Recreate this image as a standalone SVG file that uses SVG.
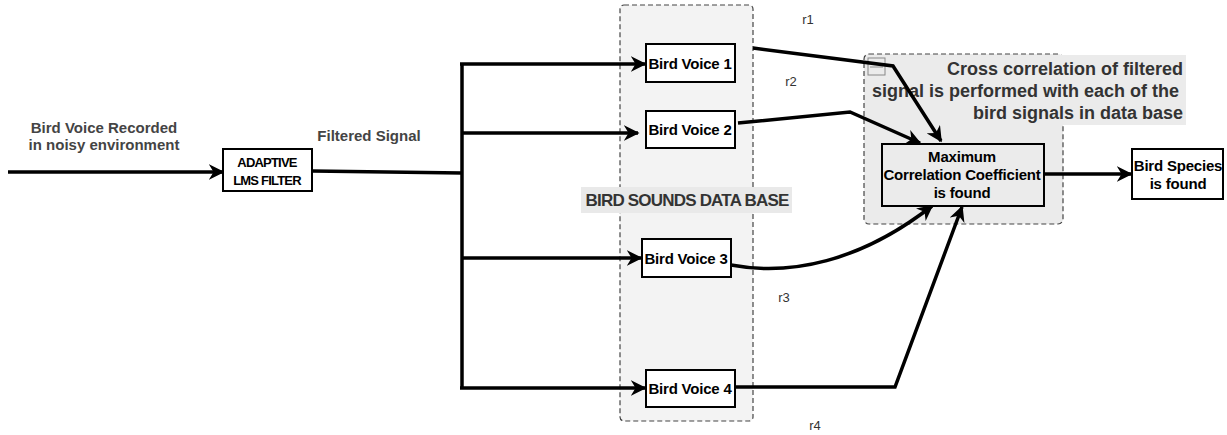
<svg xmlns="http://www.w3.org/2000/svg" width="1227" height="435" viewBox="0 0 1227 435">
<defs>
<marker id="arr" viewBox="0 0 10 10" refX="9" refY="5" markerWidth="4.5" markerHeight="4.5" orient="auto" markerUnits="strokeWidth">
<path d="M0,0 L10,5 L0,10 L3,5 Z" fill="#000"/>
</marker>
<style>
.box{fill:#fff;stroke:#000;stroke-width:2}
.grp{stroke:#444;stroke-width:1.2;stroke-dasharray:5,3}
.c{fill:none;stroke:#000;stroke-width:3.5;marker-end:url(#arr)}
.cn{fill:none;stroke:#000;stroke-width:3.5}
.t{font-family:"Liberation Sans",Arial,sans-serif;font-weight:bold;font-size:15px;fill:#000;text-anchor:middle;letter-spacing:-0.2px}
.lbl{font-family:"Liberation Sans",Arial,sans-serif;font-weight:bold;font-size:15px;fill:#444;text-anchor:middle}
.r{font-family:"Liberation Sans",Arial,sans-serif;font-size:13px;fill:#333;text-anchor:middle}
</style>
</defs>
<rect width="1227" height="435" fill="#fff"/>

<g id="database">
<rect class="grp" x="620" y="5" width="133" height="416" rx="4" fill="#f3f3f3"/>
<rect x="581" y="187" width="211" height="26" fill="#e9e9e9"/>
<text class="lbl" x="687" y="206" style="font-size:17px;fill:#333;letter-spacing:-0.8px">BIRD SOUNDS DATA BASE</text>
</g>

<g id="crosscorr">
<rect class="grp" x="864" y="54" width="199" height="170" rx="5" fill="#ebebeb"/>
<rect x="866" y="55" width="320" height="70" fill="#ebebeb"/>
<rect x="868" y="58" width="17" height="17" fill="none" stroke="#888" stroke-width="1"/>
<line x1="870" y1="67" x2="883" y2="67" stroke="#888" stroke-width="1"/>
<text class="lbl" style="font-size:18px;fill:#333;text-anchor:end" x="1183" y="75">Cross correlation of filtered</text>
<text class="lbl" style="font-size:18px;fill:#333;text-anchor:end" x="1179" y="97">signal is performed with each of the</text>
<text class="lbl" style="font-size:18px;fill:#333;text-anchor:end" x="1183" y="119">bird signals in data base</text>
</g>

<g id="connectors">
<line class="c" x1="8" y1="172" x2="223" y2="172"/>
<polyline class="cn" points="312,171 462,173"/>
<polyline class="cn" points="462,63 462,388"/>
<polyline class="c" points="460,64 645,64"/>
<polyline class="c" points="462,133 638,133"/>
<polyline class="c" points="462,258 641,258"/>
<polyline class="c" points="460,388 645,388"/>
<polyline class="c" points="753,48 893,66 941,141"/>
<polyline class="c" points="738,123 850,112 920,143"/>
<path class="c" d="M731,265 C790,276 860,262 932,206"/>
<polyline class="c" points="735,387 895,387 962,207"/>
<line class="c" x1="1044" y1="174" x2="1131" y2="174"/>
</g>

<g id="adaptive">
<rect class="box" x="223" y="149" width="89" height="42"/>
<text class="t" x="267" y="167" style="font-size:13px;letter-spacing:-0.8px">ADAPTIVE</text>
<text class="t" x="267" y="185" style="font-size:13px;letter-spacing:-0.8px">LMS FILTER</text>
</g>

<g id="bv1"><rect class="box" x="646" y="44" width="89" height="38"/><text class="t" x="690" y="69">Bird Voice 1</text></g>
<g id="bv2"><rect class="box" x="646" y="111" width="89" height="37"/><text class="t" x="690" y="135">Bird Voice 2</text></g>
<g id="bv3"><rect class="box" x="642" y="239" width="89" height="38"/><text class="t" x="686" y="264">Bird Voice 3</text></g>
<g id="bv4"><rect class="box" x="646" y="370" width="89" height="37"/><text class="t" x="690" y="394">Bird Voice 4</text></g>

<g id="maxcorr">
<rect class="box" x="882" y="144" width="162" height="62" style="fill:#ebebeb"/>
<text class="t" x="962" y="162">Maximum</text>
<text class="t" x="962" y="180">Correlation Coefficient</text>
<text class="t" x="962" y="198">is found</text>
</g>

<g id="species">
<rect class="box" x="1132" y="149" width="91" height="50"/>
<text class="t" x="1178" y="171">Bird Species</text>
<text class="t" x="1178" y="189">is found</text>
</g>

<g id="labels">
<text class="lbl" x="104" y="133">Bird Voice Recorded</text>
<text class="lbl" x="104" y="150">in noisy environment</text>
<text class="lbl" x="369" y="141">Filtered Signal</text>
<text class="r" x="808" y="24">r1</text>
<text class="r" x="791" y="86">r2</text>
<text class="r" x="784" y="302">r3</text>
<text class="r" x="815" y="430">r4</text>
</g>
</svg>
